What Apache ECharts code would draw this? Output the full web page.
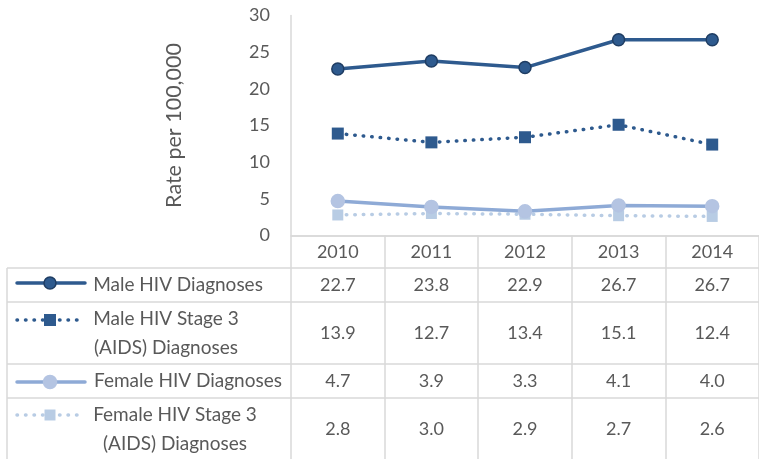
<!DOCTYPE html>
<html>
<head>
<meta charset="utf-8">
<script src="https://cdn.jsdelivr.net/npm/echarts@6/dist/echarts.min.js"></script>
<style>
html,body{margin:0;padding:0;background:#fff;}
#chart{width:759px;height:459px;}
</style>
</head>
<body>
<div id="chart"></div>
<script>
// data
var years = ['2010', '2011', '2012', '2013', '2014'];
var seriesNames = ['Male HIV Diagnoses', 'Male HIV Stage 3\n(AIDS) Diagnoses', 'Female HIV Diagnoses', 'Female HIV Stage 3\n(AIDS) Diagnoses'];
var maleHiv = [22.7, 23.8, 22.9, 26.7, 26.7];
var maleAids = [13.9, 12.7, 13.4, 15.1, 12.4];
var femaleHiv = [4.7, 3.9, 3.3, 4.1, 4.0];
var femaleAids = [2.8, 3.0, 2.9, 2.7, 2.6];
var yTicks = {min: 0, max: 30, interval: 5};

var FONT = 'Lato';
var TXT = '#595959';
var GRIDC = '#D9D9D9';

var styles = [
  {color: '#2E5A8E', border: '#1F3D63', symbol: 'circle', size: 12, dash: 'solid'},
  {color: '#2E5A8E', border: '#2E5A8E', symbol: 'rect', size: 12, dash: [0.5, 8]},
  {color: '#8EAAD6', border: '#B4C4E2', symbol: 'circle', size: 13, dash: 'solid', fill: '#B4C4E2'},
  {color: '#B8CCE4', border: '#B8CCE4', symbol: 'rect', size: 11, dash: [0.5, 8]}
];
var allData = [maleHiv, maleAids, femaleHiv, femaleAids];

var chart = echarts.init(document.getElementById('chart'));

var series = allData.map(function (d, i) {
  var s = styles[i];
  return {
    name: seriesNames[i],
    type: 'line',
    data: d,
    symbol: s.symbol,
    symbolSize: s.size,
    showAllSymbol: true,
    lineStyle: {color: s.color, width: 3.5, type: s.dash, cap: 'round'},
    itemStyle: {color: s.fill || s.color, borderColor: s.border, borderWidth: s.symbol === 'circle' ? 1.5 : 0},
    z: 4 - i
  };
});

chart.setOption({
  animation: false,
  textStyle: {fontFamily: FONT},
  grid: {left: 291, right: -6, top: 15.5, bottom: 223.5},
  xAxis: {
    type: 'category',
    data: years,
    boundaryGap: true,
    axisLine: {show: true, lineStyle: {color: GRIDC, width: 1.5}},
    axisTick: {show: true, length: 230, lineStyle: {color: GRIDC, width: 1.5}},
    axisLabel: {color: TXT, fontSize: 18, margin: 8, fontFamily: FONT}
  },
  yAxis: {
    type: 'value',
    min: yTicks.min, max: yTicks.max, interval: yTicks.interval,
    name: 'Rate per 100,000',
    nameLocation: 'middle',
    nameRotate: 90,
    nameGap: 106,
    nameTextStyle: {color: TXT, fontSize: 21.5, fontFamily: FONT},
    axisLine: {show: true, lineStyle: {color: GRIDC, width: 1.5}},
    axisTick: {show: false},
    splitLine: {show: false},
    axisLabel: {color: TXT, fontSize: 18, margin: 21, fontFamily: FONT}
  },
  series: series
});

// data table under the plot
var rowEdges = [268, 302, 364, 398, 470];
var labelCenters = [178, 166, 188, 175];
var symY = [283, 320, 382, 415];
var graphics = [];
var x0 = 291, xRight = 760;

// horizontal rules
graphics.push({type: 'line', shape: {x1: x0, y1: 236, x2: xRight, y2: 236}, style: {stroke: GRIDC, lineWidth: 1.5}, silent: true});
rowEdges.forEach(function (y) {
  graphics.push({type: 'line', shape: {x1: 7, y1: y, x2: xRight, y2: y}, style: {stroke: GRIDC, lineWidth: 1.5}, silent: true});
});
// left border of the label column
graphics.push({type: 'line', shape: {x1: 7, y1: 268, x2: 7, y2: 470}, style: {stroke: GRIDC, lineWidth: 1.5}, silent: true});

allData.forEach(function (d, r) {
  var top = rowEdges[r], bot = rowEdges[r + 1];
  if (r === 3) bot = 459;
  var cy = (top + bot) / 2;
  if (r === 3) cy = 429;
  // legend key
  var s = styles[r];
  graphics.push({
    type: 'line', shape: {x1: 17, y1: symY[r], x2: 85, y2: symY[r]},
    style: {stroke: s.color, lineWidth: 3.5, lineDash: s.dash === 'solid' ? null : s.dash, lineCap: 'round'}, silent: true
  });
  if (s.symbol === 'circle') {
    graphics.push({type: 'circle', shape: {cx: 50, cy: symY[r], r: s.size / 2},
      style: {fill: s.fill || s.color, stroke: s.border, lineWidth: 1.5}, silent: true});
  } else {
    graphics.push({type: 'rect', shape: {x: 50 - s.size / 2, y: symY[r] - s.size / 2, width: s.size, height: s.size},
      style: {fill: s.color}, silent: true});
  }
  // series name
  graphics.push({
    type: 'text', x: labelCenters[r], y: cy,
    style: {text: seriesNames[r], fill: TXT, font: '19px ' + FONT, textAlign: 'center', textVerticalAlign: 'middle', lineHeight: 29},
    silent: true
  });
  // values
  d.forEach(function (v, c) {
    var px = chart.convertToPixel({xAxisIndex: 0}, years[c]);
    graphics.push({
      type: 'text', x: px, y: cy,
      style: {text: v.toFixed(1), fill: TXT, font: '18px ' + FONT, textAlign: 'center', textVerticalAlign: 'middle'},
      silent: true
    });
  });
});

chart.setOption({graphic: graphics});
</script>
</body>
</html>
